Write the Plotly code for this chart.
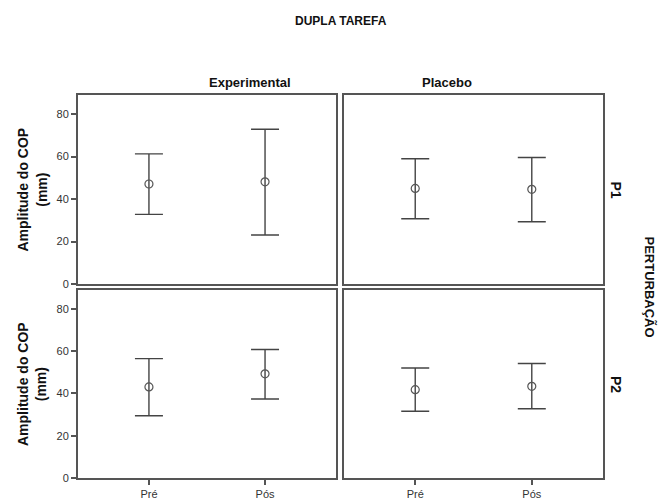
import plotly.graph_objects as go

# Mean amplitude of the centre of pressure (mm) with 95% confidence limits
moments = ["Pré", "Pós"]
groups = ["Experimental", "Placebo"]
perturbations = ["P1", "P2"]

exp_p1_mean = [47.1, 48.1]
exp_p1_low = [32.8, 23.1]
exp_p1_high = [61.3, 72.9]

plac_p1_mean = [45.0, 44.6]
plac_p1_low = [30.7, 29.3]
plac_p1_high = [59.0, 59.6]

exp_p2_mean = [43.1, 49.3]
exp_p2_low = [29.5, 37.4]
exp_p2_high = [56.5, 60.8]

plac_p2_mean = [41.8, 43.4]
plac_p2_low = [31.6, 32.8]
plac_p2_high = [52.1, 54.2]

y_ticks = [0, 20, 40, 60, 80]

panels = [
    # (row, col, mean, low, high)
    (0, 0, exp_p1_mean, exp_p1_low, exp_p1_high),
    (0, 1, plac_p1_mean, plac_p1_low, plac_p1_high),
    (1, 0, exp_p2_mean, exp_p2_low, exp_p2_high),
    (1, 1, plac_p2_mean, plac_p2_low, plac_p2_high),
]

x_domains = [[0.0, 0.4914], [0.5067, 1.0]]
y_domains = [[0.5065, 1.0], [0.0, 0.4909]]

FRAME = "#555555"
BAR = "#444444"
FONT = "Liberation Sans, Arial, sans-serif"

fig = go.Figure()
layout = {}

for idx, (row, col, mean, low, high) in enumerate(panels):
    n = idx + 1
    xa = "x" if n == 1 else f"x{n}"
    ya = "y" if n == 1 else f"y{n}"
    plus = [h - m for h, m in zip(high, mean)]
    minus = [m - l for m, l in zip(mean, low)]
    fig.add_trace(go.Scatter(
        x=[0, 1], y=mean, xaxis=xa, yaxis=ya, mode="markers",
        marker=dict(symbol="circle-open", size=8, color="#555555",
                    line=dict(width=1.2, color="#555555")),
        error_y=dict(type="data", array=plus, arrayminus=minus,
                     color=BAR, thickness=1.4, width=14),
        showlegend=False, hoverinfo="skip",
    ))
    bottom_row = row == 1
    left_col = col == 0
    layout[("xaxis" if n == 1 else f"xaxis{n}")] = dict(
        domain=x_domains[col], anchor=ya, range=[-0.611, 1.611],
        tickmode="array", tickvals=[0, 1], ticktext=moments,
        showticklabels=bottom_row, ticks="outside" if bottom_row else "",
        ticklen=5, tickwidth=2, tickcolor=FRAME, automargin=False,
        showline=True, mirror=True, linecolor=FRAME, linewidth=2,
        showgrid=False, zeroline=False,
        tickfont=dict(family=FONT, size=11, color="#333333"),
    )
    layout[("yaxis" if n == 1 else f"yaxis{n}")] = dict(
        domain=y_domains[row], anchor=xa, range=[0, 89],
        tickmode="array", tickvals=y_ticks,
        showticklabels=left_col, ticks="outside" if left_col else "",
        ticklen=5, tickwidth=1.5, tickcolor=FRAME, automargin=False,
        showline=True, mirror=True, linecolor=FRAME, linewidth=2,
        showgrid=False, zeroline=False,
        tickfont=dict(family=FONT, size=11, color="#333333"),
    )

annotations = [
    # Title sits in the top margin, placed in pixels above the panels
    dict(text="<b>DUPLA TAREFA</b>", x=0.5, y=1.0, xref="paper", yref="paper",
         yanchor="middle", yshift=95 - 21, showarrow=False,
         font=dict(size=12, color="#111111")),
]

# Column headers
for col, name in enumerate(groups):
    annotations.append(dict(
        text=f"<b>{name}</b>", x=sum(x_domains[col]) / 2, y=1.0,
        xref="paper", yref="paper", yanchor="bottom", yshift=3,
        showarrow=False, font=dict(size=13, color="#111111")))

# Row labels and y-axis titles
for row, name in enumerate(perturbations):
    ymid = sum(y_domains[row]) / 2
    annotations.append(dict(
        text=f"<b>{name}</b>", x=1.0, y=ymid, xref="paper", yref="paper",
        xanchor="left", yanchor="middle", xshift=3, showarrow=False,
        textangle=90, font=dict(size=14, color="#111111")))
    annotations.append(dict(
        text="<b>Amplitude do COP<br>(mm)</b>", x=0.0, y=ymid,
        xref="paper", yref="paper", xanchor="center", yanchor="middle",
        xshift=-46, showarrow=False, textangle=-90,
        font=dict(size=14, color="#111111")))

annotations.append(dict(
    text="<b>PERTURBAÇÃO</b>", x=1.0, y=0.5, xref="paper", yref="paper",
    xanchor="center", yanchor="middle", xshift=46, showarrow=False,
    textangle=90, font=dict(size=13, color="#111111")))

fig.update_layout(
    **layout,
    annotations=annotations,
    width=660, height=499,
    margin=dict(l=78, r=57, t=95, b=21, pad=0, autoexpand=False),
    paper_bgcolor="white", plot_bgcolor="white",
    font=dict(family=FONT, color="#222222"),
)

fig.write_html("out.html")
